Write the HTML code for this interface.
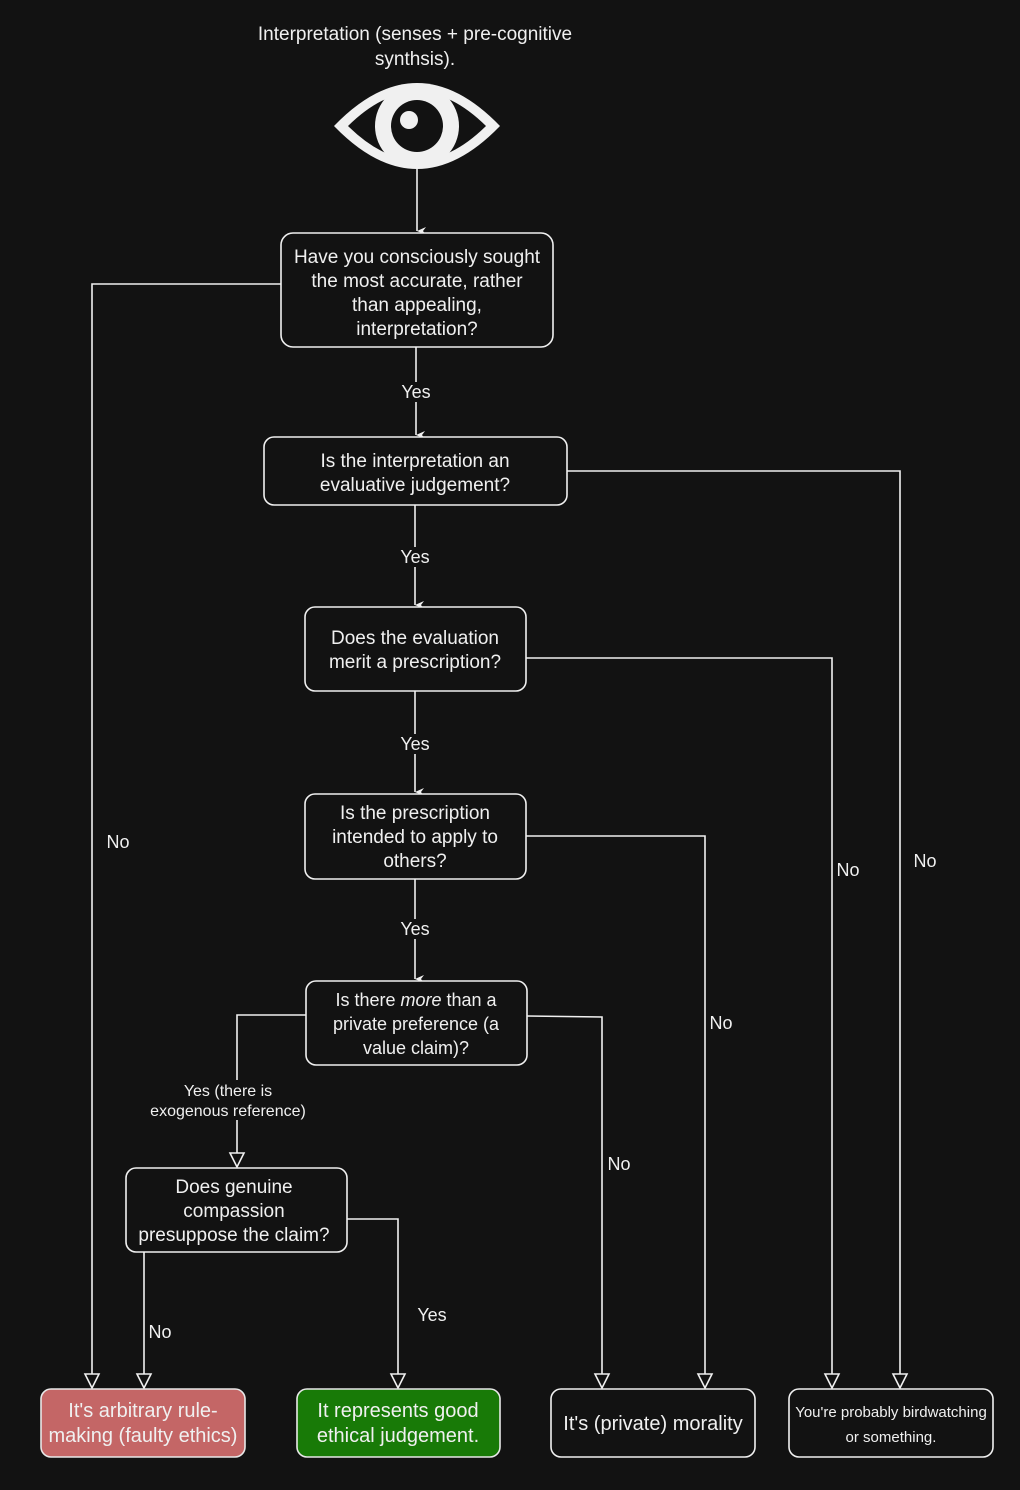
<!DOCTYPE html>
<html><head><meta charset="utf-8"><style>
html,body{margin:0;padding:0;background:#121212;}
svg{display:block;}
text{font-family:"Liberation Sans",Arial,sans-serif;fill:#f0f0f0;}
</style></head><body>
<svg width="1020" height="1490" viewBox="0 0 1020 1490" xmlns="http://www.w3.org/2000/svg">
<defs>
<marker id="fa" markerWidth="10" markerHeight="10" refX="5" refY="9" orient="auto" markerUnits="userSpaceOnUse"><path d="M1,0 L5,9 L9,0 L5,3 Z" fill="#f0f0f0"/></marker>
</defs>
<rect width="1020" height="1490" fill="#121212"/>
<g font-size="19" text-anchor="middle">
<text x="415" y="40">Interpretation (senses + pre-cognitive</text>
<text x="415" y="65">synthsis).</text>
</g>
<!-- eye -->
<path d="M334,126 Q417,40 500,126 Q417,212 334,126 Z" fill="#f0f0f0"/>
<path d="M348,126 Q417,58 486,126 Q417,194 348,126 Z" fill="#121212"/>
<circle cx="417" cy="126" r="42" fill="#f0f0f0"/>
<circle cx="417" cy="126" r="26" fill="#121212"/>
<circle cx="409" cy="120" r="9" fill="#f0f0f0"/>

<g stroke="#f0f0f0" stroke-width="1.6" fill="none">
<line x1="417" y1="168" x2="417" y2="231" marker-end="url(#fa)"/>
<line x1="416" y1="347" x2="416" y2="435" marker-end="url(#fa)"/>
<line x1="415" y1="505" x2="415" y2="605" marker-end="url(#fa)"/>
<line x1="415" y1="691" x2="415" y2="792" marker-end="url(#fa)"/>
<line x1="415" y1="879" x2="415" y2="979" marker-end="url(#fa)"/>
<polyline points="281,284 92,284 92,1374"/>
<polyline points="567,471 900,471 900,1374"/>
<polyline points="526,658 832,658 832,1374"/>
<polyline points="526,836 705,836 705,1374"/>
<polyline points="527,1016 602,1017 602,1374"/>
<polyline points="306,1015 237,1015 237,1153"/>
<polyline points="144,1252 144,1374"/>
<polyline points="347,1219 398,1219 398,1374"/>
</g>
<g fill="#121212" stroke="#f0f0f0" stroke-width="1.6">
<path d="M85,1374 L99,1374 L92,1388 Z"/>
<path d="M137,1374 L151,1374 L144,1388 Z"/>
<path d="M391,1374 L405,1374 L398,1388 Z"/>
<path d="M595,1374 L609,1374 L602,1388 Z"/>
<path d="M698,1374 L712,1374 L705,1388 Z"/>
<path d="M825,1374 L839,1374 L832,1388 Z"/>
<path d="M893,1374 L907,1374 L900,1388 Z"/>
<path d="M230,1153 L244,1153 L237,1167 Z"/>
</g>

<!-- label backgrounds -->
<g fill="#121212">
<rect x="396" y="382" width="40" height="20"/>
<rect x="395" y="547" width="40" height="20"/>
<rect x="395" y="734" width="40" height="20"/>
<rect x="395" y="919" width="40" height="20"/>
<rect x="140" y="1080" width="176" height="40"/>
</g>

<g stroke="#f0f0f0" stroke-width="1.6" fill="#121212">
<rect x="281" y="233" width="272" height="114" rx="12"/>
<rect x="264" y="437" width="303" height="68" rx="10"/>
<rect x="305" y="607" width="221" height="84" rx="10"/>
<rect x="305" y="794" width="221" height="85" rx="10"/>
<rect x="306" y="981" width="221" height="84" rx="10"/>
<rect x="126" y="1168" width="221" height="84" rx="10"/>
<rect x="41" y="1389" width="204" height="68" rx="10" fill="#c46666" stroke="#e8e8e8"/>
<rect x="297" y="1389" width="203" height="68" rx="10" fill="#187a07" stroke="#e8e8e8"/>
<rect x="551" y="1389" width="204" height="68" rx="10"/>
<rect x="789" y="1389" width="204" height="68" rx="10"/>
</g>

<g font-size="19" text-anchor="middle">
<text x="417" y="263">Have you consciously sought</text>
<text x="417" y="287">the most accurate, rather</text>
<text x="417" y="311">than appealing,</text>
<text x="417" y="335">interpretation?</text>
<text x="415" y="467">Is the interpretation an</text>
<text x="415" y="491">evaluative judgement?</text>
<text x="415" y="644">Does the evaluation</text>
<text x="415" y="668">merit a prescription?</text>
<text x="415" y="819">Is the prescription</text>
<text x="415" y="843">intended to apply to</text>
<text x="415" y="867">others?</text>
<text x="416" y="1006" font-size="18">Is there <tspan font-style="italic">more</tspan> than a</text>
<text x="416" y="1030" font-size="18">private preference (a</text>
<text x="416" y="1054" font-size="18">value claim)?</text>
<text x="234" y="1193">Does genuine</text>
<text x="234" y="1217">compassion</text>
<text x="234" y="1241">presuppose the claim?</text>
<text x="143" y="1417" font-size="20">It's arbitrary rule-</text>
<text x="143" y="1442" font-size="20">making (faulty ethics)</text>
<text x="398" y="1417" font-size="20">It represents good</text>
<text x="398" y="1442" font-size="20">ethical judgement.</text>
<text x="653" y="1430" font-size="20">It's (private) morality</text>
<text x="891" y="1417" font-size="15">You're probably birdwatching</text>
<text x="891" y="1442" font-size="15">or something.</text>
</g>

<g font-size="18" text-anchor="middle">
<text x="416" y="398">Yes</text>
<text x="415" y="563">Yes</text>
<text x="415" y="750">Yes</text>
<text x="415" y="935">Yes</text>
<text x="118" y="848">No</text>
<text x="925" y="867">No</text>
<text x="848" y="876">No</text>
<text x="721" y="1029">No</text>
<text x="619" y="1170">No</text>
<text x="160" y="1338">No</text>
<text x="432" y="1321">Yes</text>
<text x="228" y="1096" font-size="16">Yes (there is</text>
<text x="228" y="1116" font-size="16">exogenous reference)</text>
</g>
</svg>
</body></html>
